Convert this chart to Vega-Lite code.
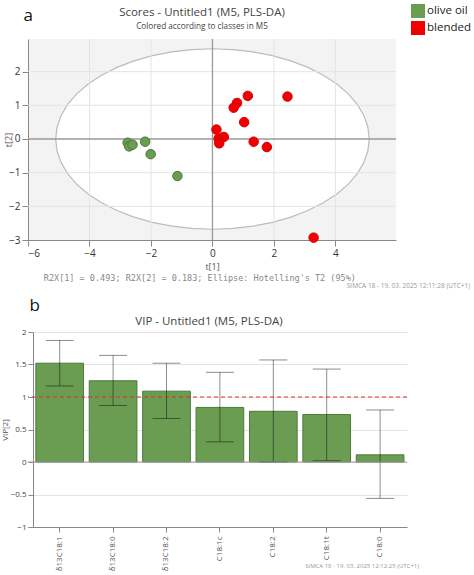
{"$schema":"https://vega.github.io/schema/vega-lite/v6.json","background":"white","padding":{"left":1,"top":4,"right":0,"bottom":0},"spacing":7,"align":"none","bounds":"full","config":{"font":"Open Sans","view":{"stroke":null}},"vconcat":[{"width":368,"height":201,"view":{"fill":"#f3f3f3","stroke":null},"title":{"text":"Scores - Untitled1 (M5, PLS-DA)","subtitle":"Colored according to classes in M5","fontSize":11.5,"fontWeight":"normal","color":"#444","subtitleFontSize":8.2,"subtitleColor":"#444","subtitlePadding":5,"dx":-10,"offset":-23,"anchor":"middle"},"layer":[{"data":{"values":[{"x":-5.1,"y":0,"y2":0},{"x":-5.056,"y":0.35,"y2":-0.35},{"x":-4.926,"y":0.694,"y2":-0.694},{"x":-4.712,"y":1.026,"y2":-1.026},{"x":-4.417,"y":1.34,"y2":-1.34},{"x":-4.046,"y":1.632,"y2":-1.632},{"x":-3.606,"y":1.895,"y2":-1.895},{"x":-3.105,"y":2.126,"y2":-2.126},{"x":-2.55,"y":2.321,"y2":-2.321},{"x":-1.952,"y":2.476,"y2":-2.476},{"x":-1.32,"y":2.589,"y2":-2.589},{"x":-0.666,"y":2.657,"y2":-2.657},{"x":0,"y":2.68,"y2":-2.68},{"x":0.666,"y":2.657,"y2":-2.657},{"x":1.32,"y":2.589,"y2":-2.589},{"x":1.952,"y":2.476,"y2":-2.476},{"x":2.55,"y":2.321,"y2":-2.321},{"x":3.105,"y":2.126,"y2":-2.126},{"x":3.606,"y":1.895,"y2":-1.895},{"x":4.046,"y":1.632,"y2":-1.632},{"x":4.417,"y":1.34,"y2":-1.34},{"x":4.712,"y":1.026,"y2":-1.026},{"x":4.926,"y":0.694,"y2":-0.694},{"x":5.056,"y":0.35,"y2":-0.35},{"x":5.1,"y":0,"y2":0}]},"mark":{"type":"area","fill":"white","stroke":"#bcbcbc","strokeWidth":1.2},"encoding":{"x":{"field":"x","type":"quantitative","scale":{"domain":[-6,5.97],"nice":false,"zero":false},"axis":{"title":"t[1]","titleFontSize":9,"titleFontWeight":"normal","titleColor":"#555","titlePadding":4,"tickCount":6,"labelOverlap":false,"labelFontSize":10,"labelColor":"#333","tickColor":"#888","domainColor":"#888","grid":false,"tickSize":6}},"y":{"field":"y","type":"quantitative","scale":{"domain":[-3,2.97],"nice":false,"zero":false},"axis":{"title":"t[2]","titleFontSize":9,"titleFontWeight":"normal","titleColor":"#555","titlePadding":-5,"tickCount":6,"labelOverlap":false,"labelFontSize":10,"labelColor":"#333","tickColor":"#888","domainColor":"#888","grid":false,"tickSize":6}},"y2":{"field":"y2"}}},{"data":{"values":[{"v":-4},{"v":-2},{"v":2},{"v":4}]},"mark":{"type":"rule","color":"#e4e4e4","strokeWidth":1},"encoding":{"x":{"field":"v","type":"quantitative"}}},{"data":{"values":[{"v":-2},{"v":-1},{"v":1},{"v":2}]},"mark":{"type":"rule","color":"#e4e4e4","strokeWidth":1},"encoding":{"y":{"field":"v","type":"quantitative"}}},{"data":{"values":[{"v":0}]},"mark":{"type":"rule","color":"#9a9a9a","strokeWidth":1.3},"encoding":{"x":{"field":"v","type":"quantitative"}}},{"data":{"values":[{"v":0}]},"mark":{"type":"rule","color":"#9a9a9a","strokeWidth":1.3},"encoding":{"y":{"field":"v","type":"quantitative"}}},{"data":{"values":[{"t1":2.44,"t2":1.26,"class":"blended"},{"t1":1.15,"t2":1.28,"class":"blended"},{"t1":0.8,"t2":1.07,"class":"blended"},{"t1":0.69,"t2":0.93,"class":"blended"},{"t1":1.03,"t2":0.5,"class":"blended"},{"t1":0.13,"t2":0.28,"class":"blended"},{"t1":0.37,"t2":0.06,"class":"blended"},{"t1":0.2,"t2":0.01,"class":"blended"},{"t1":0.22,"t2":-0.13,"class":"blended"},{"t1":1.34,"t2":-0.08,"class":"blended"},{"t1":1.77,"t2":-0.24,"class":"blended"},{"t1":3.29,"t2":-2.93,"class":"blended"},{"t1":-2.76,"t2":-0.11,"class":"olive oil"},{"t1":-2.71,"t2":-0.22,"class":"olive oil"},{"t1":-2.6,"t2":-0.17,"class":"olive oil"},{"t1":-2.19,"t2":-0.08,"class":"olive oil"},{"t1":-2.01,"t2":-0.45,"class":"olive oil"},{"t1":-1.14,"t2":-1.1,"class":"olive oil"}]},"mark":{"type":"point","filled":true,"shape":"circle","size":90,"opacity":1,"strokeWidth":1},"encoding":{"x":{"field":"t1","type":"quantitative"},"y":{"field":"t2","type":"quantitative"},"color":{"field":"class","type":"nominal","scale":{"domain":["olive oil","blended"],"range":["#6a9d52","#f00000"]},"legend":{"title":null,"orient":"none","legendX":383,"legendY":-35,"symbolType":"square","symbolSize":196,"symbolOpacity":1,"symbolStrokeWidth":0,"labelFontSize":11.5,"labelColor":"#222","rowPadding":3,"labelOffset":2}},"stroke":{"field":"class","type":"nominal","scale":{"domain":["olive oil","blended"],"range":["#4c7a3c","#d40000"]},"legend":null}}},{"data":{"values":[{"x":-6.15,"y":3.64,"label":"a"}]},"mark":{"type":"text","fontSize":17,"color":"#111","align":"left"},"encoding":{"x":{"field":"x","type":"quantitative"},"y":{"field":"y","type":"quantitative"},"text":{"field":"label"}}},{"data":{"values":[{"x":-0.41,"y":-4.12,"label":"R2X[1] = 0.493; R2X[2] = 0.183; Ellipse: Hotelling's T2 (95%)"}]},"mark":{"type":"text","fontSize":8.5,"font":"DejaVu Sans Mono","color":"#888"},"encoding":{"x":{"field":"x","type":"quantitative"},"y":{"field":"y","type":"quantitative"},"text":{"field":"label"}}},{"data":{"values":[{"x":8.38,"y":-4.38,"label":"SIMCA 18 - 19. 03. 2025 12:11:28 (UTC+1)"}]},"mark":{"type":"text","fontSize":6.5,"color":"#999","align":"right"},"encoding":{"x":{"field":"x","type":"quantitative"},"y":{"field":"y","type":"quantitative"},"text":{"field":"label"}}}]},{"width":379,"height":195,"title":{"text":"VIP - Untitled1 (M5, PLS-DA)","fontSize":11.5,"fontWeight":"normal","color":"#444","dx":-8.5,"offset":-30,"anchor":"middle"},"data":{"values":[{"var":"δ13C18:1","vip":1.52,"lo":1.17,"hi":1.87},{"var":"δ13C18:0","vip":1.25,"lo":0.87,"hi":1.64},{"var":"δ13C18:2","vip":1.09,"lo":0.67,"hi":1.52},{"var":"C18:1c","vip":0.84,"lo":0.31,"hi":1.38},{"var":"C18:2","vip":0.78,"lo":0.0,"hi":1.57},{"var":"C18:1t","vip":0.73,"lo":0.02,"hi":1.43},{"var":"C18:0","vip":0.11,"lo":-0.56,"hi":0.8}]},"layer":[{"mark":{"type":"bar","color":"#6a9d52","stroke":"#4c7a3c","strokeWidth":1},"encoding":{"x":{"field":"var","type":"nominal","sort":null,"scale":{"paddingInner":0.107,"paddingOuter":0.102,"align":0.72},"axis":{"title":null,"labelAngle":-90,"labelFontSize":8,"labelColor":"#555","tickColor":"#888","domainColor":"#888","labelPadding":4}},"y":{"field":"vip","type":"quantitative","scale":{"domain":[-1,2],"nice":false},"axis":{"title":"VIP[2]","titleFontSize":8,"titleFontWeight":"normal","titleColor":"#555","titlePadding":1,"offset":-5,"tickCount":7,"format":".1~f","labelOverlap":false,"labelFontSize":8,"labelColor":"#444","tickColor":"#888","domainColor":"#888","grid":true,"gridColor":"#e4e4e4","tickSize":5}}}},{"mark":{"type":"rule","color":"#000","opacity":0.45,"strokeWidth":1},"encoding":{"x":{"field":"var","type":"nominal","sort":null},"y":{"field":"lo","type":"quantitative"},"y2":{"field":"hi"}}},{"mark":{"type":"tick","color":"#000","opacity":0.45,"size":28,"thickness":1},"encoding":{"x":{"field":"var","type":"nominal","sort":null},"y":{"field":"lo","type":"quantitative"}}},{"mark":{"type":"tick","color":"#000","opacity":0.45,"size":28,"thickness":1},"encoding":{"x":{"field":"var","type":"nominal","sort":null},"y":{"field":"hi","type":"quantitative"}}},{"data":{"values":[{"v":0}]},"mark":{"type":"rule","color":"#999","strokeWidth":1.2},"encoding":{"y":{"field":"v","type":"quantitative"}}},{"data":{"values":[{"v":1}]},"mark":{"type":"rule","color":"#e8262a","strokeWidth":1.2,"strokeDash":[4,3]},"encoding":{"y":{"field":"v","type":"quantitative"}}},{"data":{"values":[{"var":"δ13C18:1","y":2.4,"label":"b"}]},"mark":{"type":"text","fontSize":17,"color":"#111","dx":-25},"encoding":{"x":{"field":"var","type":"nominal","sort":null},"y":{"field":"y","type":"quantitative"},"text":{"field":"label"}}},{"data":{"values":[{"var":"C18:0","y":-1.595,"label":"SIMCA 18 - 19. 03. 2025 12:12:25 (UTC+1)"}]},"mark":{"type":"text","fontSize":6,"color":"#999","dx":-18},"encoding":{"x":{"field":"var","type":"nominal","sort":null},"y":{"field":"y","type":"quantitative"},"text":{"field":"label"}}}]}]}
